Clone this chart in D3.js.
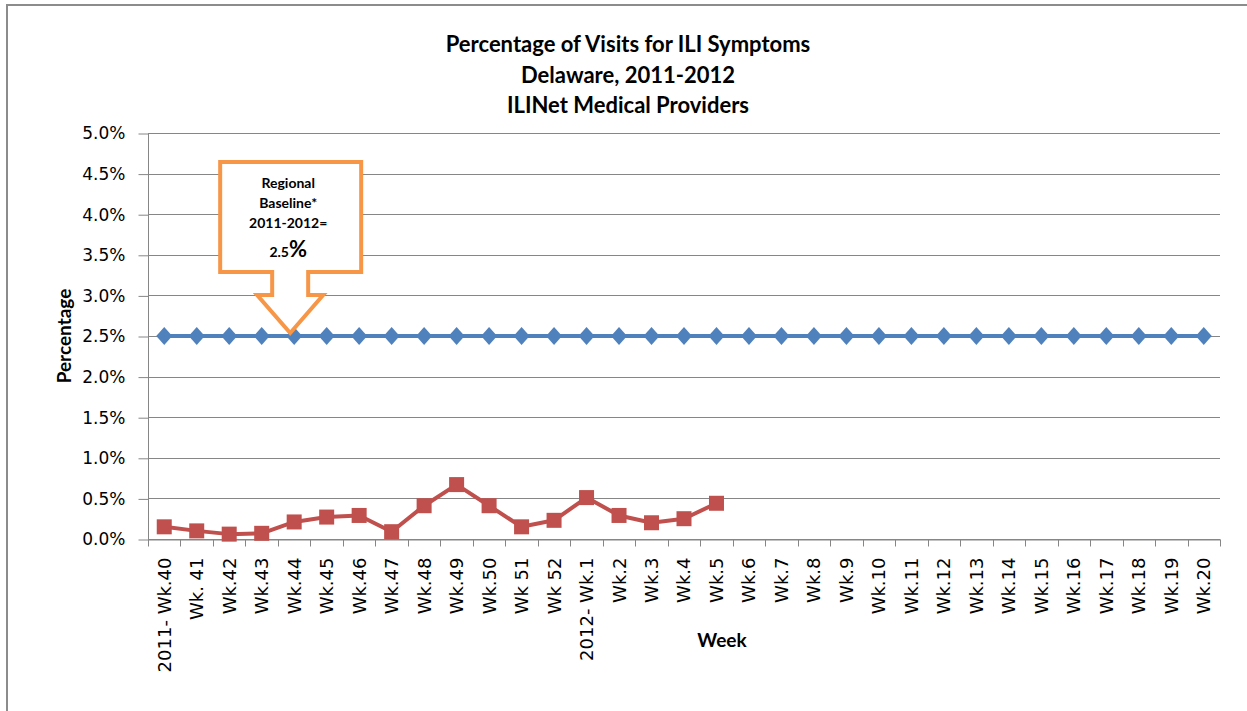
<!DOCTYPE html>
<html lang="en">
<head>
    <meta charset="UTF-8">
    <title>Percentage of Visits for ILI Symptoms</title>
    <style>
        body{
            margin: 0;
            background-color: #ffffff;
        }
        svg{
            display: block;
        }
        .grid line{
            stroke: #868686;
            stroke-width: 1;
        }
        .axis path, .axis line{
            stroke: #868686;
        }
        .axis text{
            font-family: "DejaVu Sans", Verdana, sans-serif;
            font-size: 17px;
            fill: #000;
        }
        .xaxis text{
            font-size: 18px;
        }
        .label{
            font-family: Lato, "Open Sans", sans-serif;
            font-weight: bold;
            font-size: 19px;
        }
        .title{
            font-family: Lato, "Open Sans", sans-serif;
            font-weight: bold;
            font-size: 22px;
        }
        .callout text{
            font-family: Lato, "Open Sans", sans-serif;
            font-weight: bold;
            font-size: 14px;
        }
    </style>
    <script src="https://cdn.jsdelivr.net/npm/d3@7"></script>
</head>
<body>
    <script>
        // weeks of the 2011-2012 season
        const weeks=["2011- Wk.40","Wk. 41","Wk.42","Wk.43","Wk.44","Wk.45","Wk.46","Wk.47",
            "Wk.48","Wk.49","Wk.50","Wk 51","Wk 52","2012- Wk.1","Wk.2","Wk.3","Wk.4","Wk.5",
            "Wk.6","Wk.7","Wk.8","Wk.9","Wk.10","Wk.11","Wk.12","Wk.13","Wk.14","Wk.15",
            "Wk.16","Wk.17","Wk.18","Wk.19","Wk.20"];
        // regional baseline, same value every week
        const baseline=[2.5,2.5,2.5,2.5,2.5,2.5,2.5,2.5,2.5,2.5,2.5,2.5,2.5,2.5,2.5,2.5,2.5,
            2.5,2.5,2.5,2.5,2.5,2.5,2.5,2.5,2.5,2.5,2.5,2.5,2.5,2.5,2.5,2.5];
        // reported ILI visits (%), only up to Wk.5
        const iliVisits=[0.15,0.10,0.06,0.07,0.21,0.27,0.29,0.09,0.41,0.67,0.41,0.15,0.23,
            0.51,0.29,0.20,0.25,0.44];
        const yTicks=[0,0.5,1,1.5,2,2.5,3,3.5,4,4.5,5];
        const titleLines=["Percentage of Visits for ILI Symptoms","Delaware, 2011-2012","ILINet Medical Providers"];
        const calloutLines=["Regional","Baseline*","2011-2012="];

        const width=1247;
        const height=711;
        const margins={
            top: 133,
            bottom: 172,
            left: 148,
            right: 27,
        }
        const svg=d3.select("body").append("svg")
            .attr("width",width)
            .attr("height",height);

        //outer chart frame
        svg.append("rect")
            .attr("x",7)
            .attr("y",5)
            .attr("width",width+20)
            .attr("height",height+20)
            .attr("fill","#fff")
            .attr("stroke","#8c8c8c")
            .attr("stroke-width",2);

        //scales
        const xScale=d3.scaleBand()
            .domain(weeks)
            .range([margins.left,width-margins.right]);
        const xMid=d=>xScale(d)+xScale.bandwidth()/2;
        const yScale=d3.scaleLinear()
            .domain([0,5])
            .range([height-margins.bottom,margins.top]);

        //horizontal gridlines
        svg.append("g").attr("class","grid")
            .selectAll("line")
            .data(yTicks)
            .enter()
            .append("line")
            .attr("x1",margins.left)
            .attr("x2",width-margins.right)
            .attr("y1",d=>Math.round(yScale(d))+0.5)
            .attr("y2",d=>Math.round(yScale(d))+0.5);

        //y axis
        const yAxis=d3.axisLeft(yScale)
            .tickValues(yTicks)
            .tickFormat(d=>d.toFixed(1)+"%")
            .tickSize(10)
            .tickPadding(13);
        svg.append("g").attr("class","axis")
            .attr("transform",`translate(${margins.left+0.5},0.5)`)
            .call(yAxis)
            .call(g=>g.select(".domain").attr("d",`M0,${margins.top-0.5}V${height-margins.bottom}`));

        //x axis with labels under each week, rotated
        const xAxis=d3.axisBottom(xScale).tickSize(0);
        const gx=svg.append("g").attr("class","axis xaxis")
            .attr("transform",`translate(0,${Math.round(height-margins.bottom)+0.5})`)
            .call(xAxis);
        gx.selectAll(".tick text")
            .attr("transform","rotate(-90)")
            .attr("x",-18)
            .attr("y",0)
            .attr("dy","0.36em")
            .style("text-anchor","end");
        //tick marks between categories
        const boundaries=weeks.map(d=>xScale(d)).concat([width-margins.right]);
        gx.selectAll(".bound")
            .data(boundaries)
            .enter()
            .append("line")
            .attr("class","bound")
            .attr("x1",d=>Math.round(d)+0.5)
            .attr("x2",d=>Math.round(d)+0.5)
            .attr("y1",0)
            .attr("y2",7);

        //baseline series
        const lineBase=d3.line()
            .x((d,i)=>xMid(weeks[i]))
            .y(d=>yScale(d));
        svg.append("path")
            .datum(baseline)
            .attr("fill","none")
            .attr("stroke","#4f81bd")
            .attr("stroke-width",4)
            .attr("d",lineBase);
        svg.append("g")
            .selectAll("path")
            .data(baseline)
            .enter()
            .append("path")
            .attr("fill","#4f81bd")
            .attr("transform",(d,i)=>`translate(${xMid(weeks[i])},${yScale(d)})`)
            .attr("d","M0,-9L8,0L0,9L-8,0Z");

        //ILI visits series
        const lineILI=d3.line()
            .x((d,i)=>xMid(weeks[i]))
            .y(d=>yScale(d));
        svg.append("path")
            .datum(iliVisits)
            .attr("fill","none")
            .attr("stroke","#c0504d")
            .attr("stroke-width",4)
            .attr("stroke-linejoin","round")
            .attr("d",lineILI);
        svg.append("g")
            .selectAll("rect")
            .data(iliVisits)
            .enter()
            .append("rect")
            .attr("fill","#c0504d")
            .attr("x",(d,i)=>xMid(weeks[i])-7.5)
            .attr("y",d=>yScale(d)-7.5)
            .attr("width",15)
            .attr("height",15);

        //callout pointing at the baseline at Wk.44
        const tipX=xMid("Wk.44")-4;
        const tipY=yScale(2.5)-3;
        const callout=svg.append("g").attr("class","callout");
        const shape=[
            [tipX-70,tipY-171],[tipX+71,tipY-171],[tipX+71,tipY-61],
            [tipX+18,tipY-61],[tipX+18,tipY-38],[tipX+33,tipY-38],
            [tipX,tipY],
            [tipX-33,tipY-38],[tipX-18,tipY-38],[tipX-18,tipY-61],[tipX-70,tipY-61]
        ];
        callout.append("path")
            .attr("d",d3.line()(shape)+"Z")
            .attr("fill","#fff")
            .attr("stroke","#f79646")
            .attr("stroke-width",4)
            .attr("stroke-linejoin","miter");
        callout.selectAll(".cl")
            .data(calloutLines)
            .enter()
            .append("text")
            .attr("class","cl")
            .attr("x",tipX-2)
            .attr("y",(d,i)=>tipY-145+i*20)
            .attr("text-anchor","middle")
            .text(d=>d);
        const pct=callout.append("text")
            .attr("x",tipX-2)
            .attr("y",tipY-76)
            .attr("text-anchor","middle");
        pct.append("tspan").text("2.5");
        pct.append("tspan").style("font-size","22px").text("%");

        //title
        svg.append("g")
            .selectAll("text")
            .data(titleLines)
            .enter()
            .append("text")
            .attr("class","title")
            .attr("x",628)
            .attr("y",(d,i)=>52+i*30.5)
            .attr("text-anchor","middle")
            .text(d=>d);

        //axis labels
        svg.append("text")
            .attr("class","label")
            .attr("transform",`translate(71,${(margins.top+height-margins.bottom)/2}) rotate(-90)`)
            .style("text-anchor","middle")
            .text("Percentage");
        svg.append("text")
            .attr("class","label")
            .attr("x",722)
            .attr("y",647)
            .style("text-anchor","middle")
            .text("Week");
    </script>
</body>
</html>
